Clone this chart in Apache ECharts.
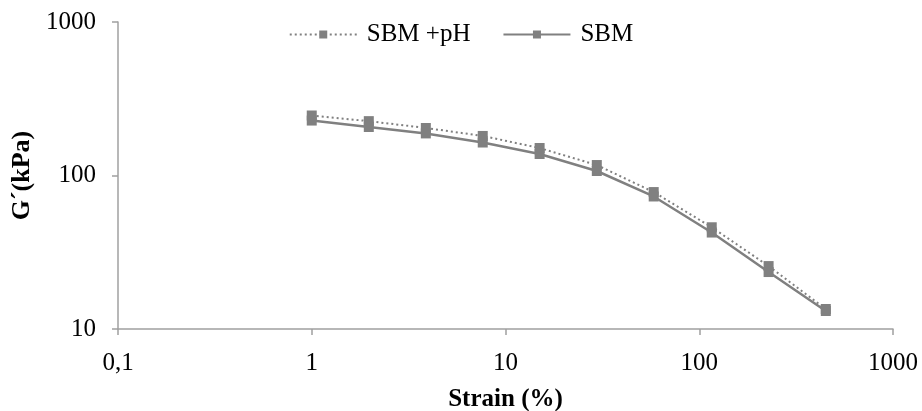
<!DOCTYPE html>
<html>
<head>
<meta charset="utf-8">
<script src="https://cdn.jsdelivr.net/npm/echarts@6/dist/echarts.min.js"></script>
<style>
html,body{margin:0;padding:0;background:#fff;}
#chart{width:922px;height:411px;}
</style>
</head>
<body>
<div id="chart"></div>
<script>
const strain = [1, 1.97, 3.88, 7.63, 15, 29.6, 58.2, 116, 228, 450];
const sbmPH = [246, 226, 204, 181, 151, 117, 78, 46, 25.7, 13.5];
const sbm = [228, 207, 188, 164, 138, 107, 73, 42.5, 23.5, 13.1];
const seriesNames = ['SBM +pH', 'SBM'];

const font = 'Liberation Serif';
const gray = '#808080';
const axisGray = '#a0a0a0';

function pairs(xs, ys) { return xs.map((x, i) => [x, ys[i]]); }
function fmt(v) { return String(v).replace('.', ','); }

const chart = echarts.init(document.getElementById('chart'));
chart.setOption({
  animation: false,
  backgroundColor: '#fff',
  grid: { left: 118, right: 29, top: 22, bottom: 82, containLabel: false, outerBoundsMode: 'none' },
  legend: {
    top: 17,
    left: 'center',
    itemWidth: 67,
    itemHeight: 10,
    itemGap: 32,
    textStyle: { fontFamily: font, fontSize: 25, color: '#000', padding: [0, 0, 0, 5] },
    data: seriesNames
  },
  xAxis: {
    type: 'log',
    logBase: 10,
    min: 0.1,
    max: 1000,
    name: 'Strain (%)',
    nameLocation: 'middle',
    nameGap: 58,
    nameTextStyle: { fontFamily: font, fontSize: 25, fontWeight: 'bold', color: '#000' },
    axisLine: { show: true, lineStyle: { color: axisGray, width: 1.5 } },
    axisTick: { show: true, inside: false, length: 6, lineStyle: { color: axisGray, width: 1.5 } },
    minorTick: { show: false },
    splitLine: { show: false },
    axisLabel: { fontFamily: font, fontSize: 25, color: '#000', margin: 22, formatter: fmt }
  },
  yAxis: {
    type: 'log',
    logBase: 10,
    min: 10,
    max: 1000,
    name: 'G´(kPa)',
    nameLocation: 'middle',
    nameGap: 77,
    nameRotate: 90,
    nameTextStyle: { fontFamily: font, fontSize: 26, fontWeight: 'bold', color: '#000' },
    axisLine: { show: true, lineStyle: { color: axisGray, width: 1.5 } },
    axisTick: { show: true, inside: false, length: 6, lineStyle: { color: axisGray, width: 1.5 } },
    splitLine: { show: false },
    axisLabel: { fontFamily: font, fontSize: 25, color: '#000', margin: 22, formatter: fmt }
  },
  series: [
    {
      name: seriesNames[0],
      type: 'line',
      data: pairs(strain, sbmPH),
      symbol: 'rect',
      symbolSize: 10,
      itemStyle: { color: gray },
      lineStyle: { color: gray, width: 2, type: [2, 3] }
    },
    {
      name: seriesNames[1],
      type: 'line',
      data: pairs(strain, sbm),
      symbol: 'rect',
      symbolSize: 10,
      itemStyle: { color: gray },
      lineStyle: { color: gray, width: 2.5, type: 'solid' }
    }
  ]
});
</script>
</body>
</html>
